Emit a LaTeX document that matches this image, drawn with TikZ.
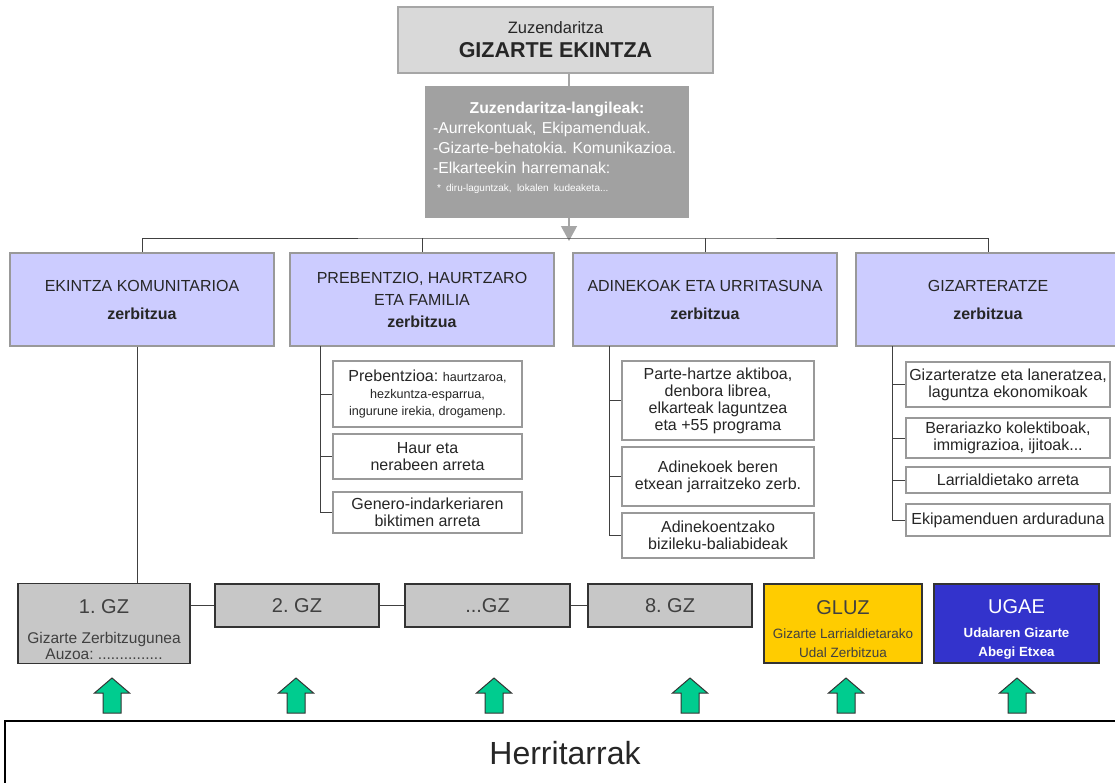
\documentclass[tikz,border=0pt]{standalone}
\usepackage{fontspec}
\setmainfont{Liberation Sans}
\usetikzlibrary{arrows.meta}
\definecolor{lav}{HTML}{CCCCFF}
\definecolor{upgreen}{HTML}{00CC8F}
\definecolor{gluzyellow}{HTML}{FFCC00}
\definecolor{ugaeblue}{HTML}{3333CC}
\newcommand{\fsz}[2]{\fontsize{#1}{#2}\selectfont}
\frenchspacing
\begin{document}
\begin{tikzpicture}[x=1pt,y=-1pt]
    \tikzstyle{chief} = [draw=gray!70, fill=gray!30, line width=1.2pt, minimum width=315pt, minimum height=66pt, align=center, text=black!85, font=\fsz{16.5}{24}]
    \tikzstyle{staff} = [fill=black!37, minimum width=264pt, minimum height=132pt, text width=258pt, inner xsep=3pt, align=left, text=white, font=\fsz{15.8}{20}]
    \tikzstyle{service} = [draw=gray!80, fill=lav, line width=1.2pt, minimum width=264pt, minimum height=93pt, align=center, text=black!85, font=\fsz{16}{22}]
    \tikzstyle{task} = [draw=gray!80, fill=white, line width=1.2pt, inner xsep=1pt, inner ysep=0pt, align=center, text=black!85, font=\fsz{16}{17}]
    \tikzstyle{centre} = [draw=black!80, fill=gray!44, line width=1.2pt, minimum height=43pt, align=center, text=black!75, font=\fsz{20}{22}]
    \tikzstyle{link} = [draw=black!75, line width=1pt]
    \useasboundingbox (0,0) rectangle (1115,782);
    \node[chief] (top) at (555.5,40) {Zuzendaritza\\{\fsz{21.5}{24}\bfseries GIZARTE EKINTZA}};
    \node[staff] (staff) at (557,152) {\hyphenpenalty=10000 \exhyphenpenalty=10000
      \makebox[258pt]{\bfseries Zuzendaritza-langileak:}\\
      \hspace*{5pt}-Aurrekontuak, Ekipamenduak.\\
      \hspace*{5pt}-Gizarte-behatokia. Komunikazioa.\\
      \hspace*{5pt}-Elkarteekin harremanak:\\[-2pt]
      {\fontsize{10}{20}\selectfont\hspace*{9pt}* diru-laguntzak, lokalen kudeaketa...}\\[-9pt]\null};
    \coordinate (bus) at (569,238);
    \draw[gray!70, line width=1.2pt] (top.south -| bus) -- (staff.north -| bus);
    \draw[gray!70, line width=1.2pt, -{Triangle[width=16pt,length=15pt]}] (staff.south -| bus) -- ([yshift=-3pt]bus);
    \node[service] (s1) at (142,299.5) {EKINTZA KOMUNITARIOA\\[6pt]\textbf{zerbitzua}};
    \node[service] (s2) at (422,299.5) {PREBENTZIO, HAURTZARO\\ETA FAMILIA\\\textbf{zerbitzua}};
    \node[service] (s3) at (705,299.5) {ADINEKOAK ETA URRITASUNA\\[6pt]\textbf{zerbitzua}};
    \node[service] (s4) at (988,299.5) {GIZARTERATZE\\[6pt]\textbf{zerbitzua}};
    \draw[link] (s1.north) |- (bus) -| (s4.north);
    \draw[link] (s2.north) -- (s2.north |- bus);
    \draw[link] (s3.north) -- (s3.north |- bus);
    \node[task, minimum width=189pt, minimum height=66pt] (p1) at (427.5,394)
      {Prebentzioa: {\fsz{12.6}{17}haurtzaroa,}\\{\fsz{12.6}{17}hezkuntza-esparrua,}\\{\fsz{12.6}{17}ingurune irekia, drogamenp.}};
    \node[task, minimum width=189pt, minimum height=45pt] (p2) at (427.5,456.5) {Haur eta\\nerabeen arreta};
    \node[task, minimum width=189pt, minimum height=41pt] (p3) at (427.5,512.5) {Genero-indarkeriaren\\biktimen arreta};
    \node[task, minimum width=192pt, minimum height=79pt] (a1) at (718,400.5) {Parte-hartze aktiboa,\\denbora librea,\\elkarteak laguntzea\\eta +55 programa};
    \node[task, minimum width=192pt, minimum height=59pt] (a2) at (718,476.5) {Adinekoek beren\\etxean jarraitzeko zerb.};
    \node[task, minimum width=192pt, minimum height=45pt] (a3) at (718,535.5) {Adinekoentzako\\bizileku-baliabideak};
    \node[task, minimum width=204pt, minimum height=45pt] (g1) at (1008,384.5) {Gizarteratze eta laneratzea,\\laguntza ekonomikoak};
    \node[task, minimum width=204pt, minimum height=40pt] (g2) at (1008,438) {Berariazko kolektiboak,\\immigrazioa, ijitoak...};
    \node[task, minimum width=204pt, minimum height=26pt] (g3) at (1008,480) {Larrialdietako arreta};
    \node[task, minimum width=204pt, minimum height=32pt] (g4) at (1008,520) {Ekipamenduen arduraduna};
    \coordinate (pr) at (320,346);
    \coordinate (ad) at (609,346);
    \coordinate (gi) at (892,346);
    \foreach \n in {1,2} \draw[link] (pr |- p\n.west) -- (p\n.west);
    \draw[link] (pr) |- (p3.west);
    \foreach \n in {1,2} \draw[link] (ad |- a\n.west) -- (a\n.west);
    \draw[link] (ad) |- (a3.west);
    \foreach \n in {1,2,3} \draw[link] (gi |- g\n.west) -- (g\n.west);
    \draw[link] (gi) |- (g4.west);
    \node[centre, minimum width=172pt, minimum height=79pt, font=\fsz{15.5}{16}] (gz1) at (104,623.5)
      {{\fsz{20}{22}\rule{0pt}{27pt}1. GZ}\\[14pt]Gizarte Zerbitzugunea\\Auzoa: ...............};
    \node[centre, minimum width=164pt] (gz2) at (297,605.5) {2. GZ};
    \node[centre, minimum width=165pt] (gz3) at (487.5,605.5) {...GZ};
    \node[centre, minimum width=164pt] (gz8) at (670,605.5) {8. GZ};
    \node[centre, fill=gluzyellow, minimum width=158pt, minimum height=79pt, font=\fsz{13.5}{19}] (gluz) at (843,623.5)
      {{\fsz{20}{22}\rule{0pt}{26pt}GLUZ}\\[5pt]Gizarte Larrialdietarako\\Udal Zerbitzua};
    \node[centre, fill=ugaeblue, text=white, minimum width=165pt, minimum height=79pt, font=\fsz{13.3}{19}\bfseries] (ugae) at (1016.5,623.5)
      {{\fsz{20}{22}\mdseries\rule{0pt}{26pt}UGAE}\\[5pt]Udalaren Gizarte\\Abegi Etxea};
    \draw[link] ([xshift=-5pt]s1.south) -- ([xshift=-5pt]s1.south |- gz1.north);
    \draw[link] (gz1.east |- gz2.west) -- (gz2.west);
    \draw[link] (gz2.east) -- (gz3.west);
    \draw[link] (gz3.east) -- (gz8.west);
    \node[draw=black, line width=2pt, minimum width=1120pt, minimum height=64pt, text=black!85, font=\fsz{32}{36}] (people) at (565,753) {Herritarrak};
    \foreach \x in {112,296,494,690,846,1017}
      \draw[black!80, fill=upgreen, line width=1pt, line join=miter] (\x,678) -- ++(17.5,15) -- ++(-8.5,0) -- ++(0,20) -- ++(-18,0) -- ++(0,-20) -- ++(-8.5,0) -- cycle;
\end{tikzpicture}
\end{document}
